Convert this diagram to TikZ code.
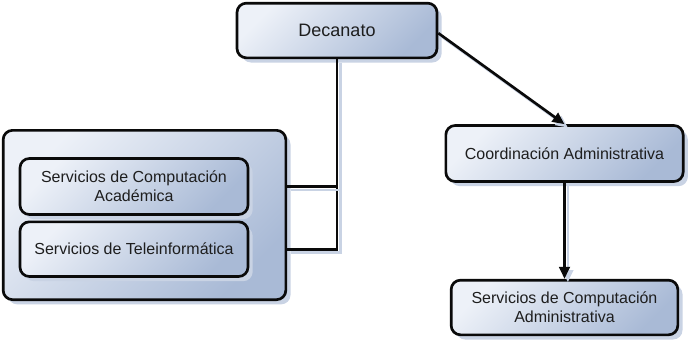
\documentclass[tikz,border=0pt]{standalone}
\usepackage{fontspec}
\setmainfont{Liberation Sans}
\usepackage{xcolor}
\definecolor{boxlight}{HTML}{EDF1F8}
\definecolor{boxdark}{HTML}{A9BAD6}
\definecolor{boxshade}{HTML}{C9D3E4}
\definecolor{inkline}{HTML}{0A0A0A}
\definecolor{textc}{HTML}{1E1E1E}
\usetikzlibrary{arrows.meta, positioning, shadows}

\begin{document}
\begin{tikzpicture}[x=0.75pt, y=-0.75pt]
  \tikzstyle{orgbox}=[rectangle, rounded corners=7pt, draw=inkline, line width=2pt,
    top color=boxlight, bottom color=boxdark, shading angle=45,
    drop shadow={shadow xshift=3.5pt, shadow yshift=-3.5pt, fill=boxshade, opacity=1},
    align=center, text=textc, font=\fontsize{12}{14.5}\selectfont, inner sep=2pt]
  \tikzstyle{link}=[line width=2pt, draw=inkline,
    preaction={draw=boxshade, line width=2pt, transform canvas={shift={(2.5pt,-2.5pt)}}}]
  \tikzstyle{arr}=[link, -{Triangle[length=9pt, width=8pt]}]
  \useasboundingbox (0,0) rectangle (690,343);
  % nodos
  \node[orgbox, minimum width=150pt, minimum height=41pt,
    font=\fontsize{13.5}{16}\selectfont] (dec) at (337,30.5) {Decanato};
  \node[orgbox, minimum width=212pt, minimum height=127pt] (grupo) at (144.5,215) {};
  \node[orgbox, minimum width=171pt, minimum height=42pt] (sca) at (134,186.5)
    {Servicios de Computación\\Académica};
  \node[orgbox, minimum width=171pt, minimum height=41pt] (stel) [below=3.5pt of sca]
    {Servicios de Teleinformática};
  \node[orgbox, minimum width=178pt, minimum height=42pt] (coord) at (564.5,153.5)
    {Coordinación Administrativa};
  \node[orgbox, minimum width=170pt, minimum height=41pt] (sadm) at (564.5,307.5)
    {Servicios de Computación\\Administrativa};
  % conectores
  \draw[link] (dec.south) |- (grupo.east |- stel);
  \draw[link] (dec.south) |- (grupo.east |- sca);
  \draw[arr] ([yshift=-2pt]dec.east) -- (coord.north);
  \draw[arr] (coord.south) -- (sadm.north);
\end{tikzpicture}
\end{document}
